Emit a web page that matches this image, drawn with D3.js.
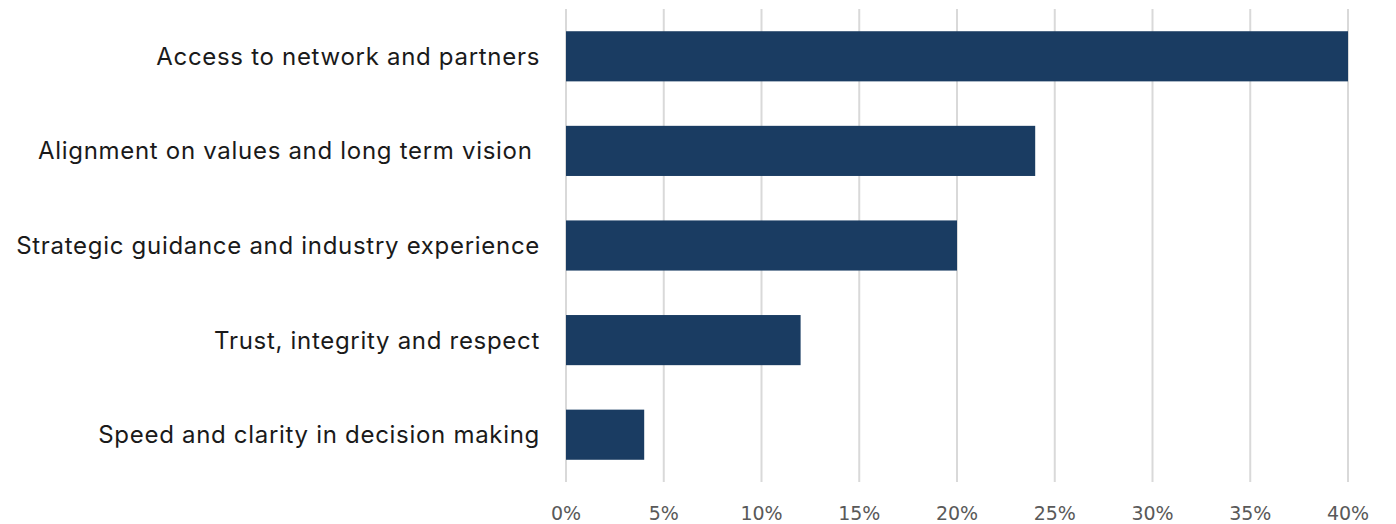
<!DOCTYPE html>
<html>
<head>
<meta charset="utf-8">
<script src="https://cdn.jsdelivr.net/npm/d3@7"></script>
<style>
  html, body { margin: 0; padding: 0; background: #fff; }
  svg { display: block; }
  .cat { font-family: "Inter", "Noto Sans", sans-serif; font-size: 24px; letter-spacing: 0.7px; fill: #1a1a1a; white-space: pre; }
  .tick-label { font-family: "DejaVu Sans", sans-serif; font-size: 19px; fill: #595959; }
</style>
</head>
<body>
<svg id="chart" width="1396" height="524"></svg>
<script>
// Share of respondents per factor
const categories = [
  "Access to network and partners",
  "Alignment on values and long term vision ",
  "Strategic guidance and industry experience",
  "Trust, integrity and respect",
  "Speed and clarity in decision making"
];
const values = [40, 24, 20, 12, 4];
const tickValues = [0, 5, 10, 15, 20, 25, 30, 35, 40];

const svg = d3.select("#chart");
const plot = { left: 566, right: 1348, top: 9, bottom: 482 };

const x = d3.scaleLinear().domain([0, 40]).range([plot.left, plot.right]);
const y = d3.scaleBand().domain(categories).range([plot.top, plot.bottom]).paddingInner(0.47).paddingOuter(0.235);

// vertical gridlines
svg.append("g").selectAll("line").data(tickValues).join("line")
  .attr("x1", d => x(d)).attr("x2", d => x(d))
  .attr("y1", plot.top).attr("y2", plot.bottom)
  .attr("stroke", "#d9d9d9").attr("stroke-width", 2);

// bars
svg.append("g").selectAll("rect").data(categories).join("rect")
  .attr("x", x(0))
  .attr("y", d => y(d))
  .attr("width", (d, i) => x(values[i]) - x(0))
  .attr("height", y.bandwidth())
  .attr("fill", "#1a3c62");

// category labels
svg.append("g").selectAll("text").data(categories).join("text")
  .attr("class", "cat")
  .attr("x", 540)
  .attr("y", d => y(d) + y.bandwidth() / 2)
  .attr("dy", "0.35em")
  .attr("text-anchor", "end")
  .text(d => d);

// x-axis tick labels
svg.append("g").selectAll("text").data(tickValues).join("text")
  .attr("class", "tick-label")
  .attr("x", d => x(d))
  .attr("y", 520)
  .attr("text-anchor", "middle")
  .text(d => d + "%");
</script>
</body>
</html>
